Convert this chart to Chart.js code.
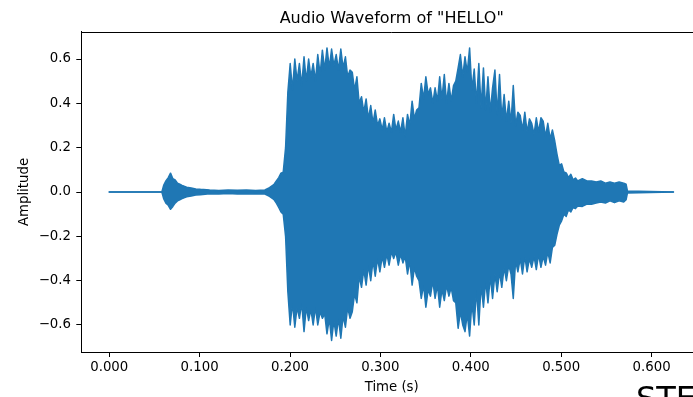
<!DOCTYPE html>
<html><head><meta charset="utf-8">
<script src="https://cdn.jsdelivr.net/npm/chart.js@4.4.1/dist/chart.umd.min.js"></script>
<style>
html,body{margin:0;padding:0;background:#fff;}
body{width:693px;height:397px;overflow:hidden;position:relative;}
#c{position:absolute;left:0;top:0;}
#stamp{position:absolute;left:636px;top:382px;font:32px/1 "DejaVu Sans";color:#000;white-space:nowrap;}
</style></head><body>
<canvas id="c" width="740" height="397"></canvas>
<div id="stamp">STE</div>
<script>
// Time (s) of each envelope sample
const times = [0,0.0582,0.0602,0.0627,0.0653,0.0678,0.0704,0.0729,0.0755,0.0780,
 0.0806,0.0856,0.0907,0.0958,0.1009,0.1111,0.1213,0.1315,0.1416,0.1518,
 0.1620,0.1722,0.1773,0.1824,0.1849,0.1875,0.1900,0.1925,0.1951,0.1976,
 0.2002,0.2027,0.2053,0.2078,0.2104,0.2129,0.2155,0.2180,0.2206,0.2231,
 0.2256,0.2282,0.2307,0.2333,0.2358,0.2384,0.2409,0.2435,0.2460,0.2485,
 0.2511,0.2536,0.2562,0.2587,0.2613,0.2638,0.2664,0.2689,0.2714,0.2740,
 0.2765,0.2791,0.2816,0.2842,0.2867,0.2893,0.2918,0.2943,0.2969,0.2994,
 0.3020,0.3045,0.3071,0.3096,0.3122,0.3147,0.3172,0.3198,0.3223,0.3249,
 0.3274,0.3300,0.3325,0.3351,0.3376,0.3401,0.3427,0.3452,0.3478,0.3503,
 0.3529,0.3554,0.3580,0.3605,0.3631,0.3656,0.3681,0.3707,0.3732,0.3758,
 0.3783,0.3809,0.3834,0.3860,0.3885,0.3911,0.3936,0.3961,0.3987,0.4012,
 0.4038,0.4063,0.4089,0.4114,0.4140,0.4165,0.4190,0.4216,0.4241,0.4267,
 0.4292,0.4318,0.4343,0.4369,0.4394,0.4420,0.4445,0.4470,0.4496,0.4521,
 0.4547,0.4572,0.4598,0.4623,0.4649,0.4674,0.4700,0.4725,0.4750,0.4776,
 0.4801,0.4827,0.4852,0.4878,0.4903,0.4929,0.4954,0.4979,0.5005,0.5030,
 0.5056,0.5081,0.5107,0.5132,0.5158,0.5183,
 0.5234,0.5285,0.5336,0.5387,0.5438,0.5489,0.5540,0.5590,0.5641,0.5692,0.5718,0.5733,0.6242];

// Upper envelope (positive peaks) of the waveform
const upper = [0,0,0.03,0.05,0.065,0.085,0.06,0.055,0.04,0.035,
 0.03,0.022,0.018,0.014,0.012,0.009,0.007,0.009,0.008,0.009,
 0.007,0.009,0.020,0.035,0.050,0.065,0.085,0.090,0.200,0.450,
 0.58,0.46,0.60,0.50,0.58,0.48,0.61,0.50,0.60,0.52,
 0.58,0.50,0.62,0.53,0.64,0.55,0.65,0.56,0.645,0.57,
 0.62,0.55,0.645,0.56,0.61,0.52,0.55,0.54,0.46,0.52,
 0.40,0.43,0.36,0.42,0.33,0.39,0.31,0.37,0.30,0.33,
 0.28,0.335,0.27,0.31,0.27,0.35,0.28,0.32,0.27,0.335,
 0.25,0.35,0.30,0.41,0.33,0.37,0.38,0.49,0.42,0.52,
 0.44,0.47,0.40,0.47,0.41,0.52,0.42,0.53,0.40,0.49,
 0.41,0.48,0.50,0.56,0.62,0.52,0.61,0.54,0.65,0.46,
 0.555,0.40,0.58,0.38,0.56,0.37,0.52,0.36,0.47,0.55,
 0.35,0.53,0.33,0.44,0.32,0.41,0.31,0.48,0.30,0.36,
 0.345,0.28,0.36,0.27,0.33,0.31,0.26,0.335,0.27,0.335,
 0.32,0.25,0.31,0.24,0.28,0.23,0.17,0.12,0.127,0.09,
 0.086,0.065,0.08,0.055,0.063,0.05,
 0.06,0.05,0.05,0.045,0.05,0.04,0.045,0.04,0.045,0.04,0.035,0.005,0];

// Lower envelope (negative peaks) of the waveform
const lower = [0,0,-0.03,-0.05,-0.06,-0.078,-0.065,-0.05,-0.04,-0.035,
 -0.03,-0.022,-0.018,-0.014,-0.012,-0.008,-0.009,-0.007,-0.009,-0.009,
 -0.008,-0.009,-0.020,-0.035,-0.050,-0.070,-0.090,-0.100,-0.200,-0.450,
 -0.60,-0.50,-0.61,-0.52,-0.57,-0.50,-0.63,-0.52,-0.58,-0.53,
 -0.60,-0.52,-0.60,-0.54,-0.57,-0.55,-0.64,-0.57,-0.67,-0.58,
 -0.65,-0.57,-0.66,-0.56,-0.61,-0.52,-0.57,-0.54,-0.46,-0.50,
 -0.38,-0.43,-0.35,-0.42,-0.33,-0.40,-0.31,-0.38,-0.30,-0.36,
 -0.29,-0.34,-0.28,-0.33,-0.27,-0.30,-0.27,-0.33,-0.28,-0.32,
 -0.29,-0.37,-0.31,-0.42,-0.34,-0.38,-0.40,-0.48,-0.42,-0.52,
 -0.44,-0.47,-0.40,-0.48,-0.42,-0.52,-0.44,-0.49,-0.42,-0.47,
 -0.43,-0.49,-0.50,-0.615,-0.54,-0.60,-0.63,-0.55,-0.65,-0.50,
 -0.60,-0.44,-0.60,-0.42,-0.52,-0.40,-0.50,-0.38,-0.48,-0.37,
 -0.45,-0.36,-0.43,-0.34,-0.40,-0.33,-0.37,-0.48,-0.31,-0.36,
 -0.30,-0.37,-0.29,-0.36,-0.30,-0.34,-0.29,-0.35,-0.28,-0.34,
 -0.29,-0.33,-0.27,-0.32,-0.25,-0.24,-0.19,-0.15,-0.13,-0.10,
 -0.11,-0.08,-0.09,-0.07,-0.075,-0.063,
 -0.065,-0.055,-0.055,-0.05,-0.045,-0.05,-0.04,-0.048,-0.04,-0.045,-0.035,-0.005,0];

const xTickValues = [0, 0.1, 0.2, 0.3, 0.4, 0.5, 0.6];
const xTickLabels = ['0.000','0.100','0.200','0.300','0.400','0.500','0.600'];
const yTickValues = [-0.6, -0.4, -0.2, 0, 0.2, 0.4, 0.6];
const yTickLabels = ['\u22120.6','\u22120.4','\u22120.2','0.0','0.2','0.4','0.6'];

const C0 = '#1f77b4';
Chart.defaults.font.family = '"DejaVu Sans"';
Chart.defaults.color = '#000';

const frame = {
  id: 'frame',
  afterDraw(chart) {
    const {ctx, chartArea: a} = chart;
    ctx.save();
    ctx.strokeStyle = '#000';
    ctx.lineWidth = 1;
    ctx.beginPath();
    ctx.moveTo(a.left, Math.round(a.top) + 0.5);
    ctx.lineTo(a.right, Math.round(a.top) + 0.5);
    ctx.lineTo(a.right, a.bottom);
    ctx.stroke();
    ctx.restore();
  }
};

const common = {
  borderColor: C0, backgroundColor: C0, borderWidth: 1.5,
  pointRadius: 0, tension: 0, borderJoinStyle: 'round', borderCapStyle: 'round'
};

new Chart(document.getElementById('c'), {
  type: 'line',
  data: {
    datasets: [
      Object.assign({label: 'upper', data: times.map((t, i) => ({x: t, y: upper[i]})), fill: '+1'}, common),
      Object.assign({label: 'lower', data: times.map((t, i) => ({x: t, y: lower[i]})), fill: false}, common)
    ]
  },
  options: {
    responsive: false,
    animation: false,
    events: [],
    layout: {padding: {left: 0, right: 37.6, top: 0, bottom: 0}},
    plugins: {
      legend: {display: false},
      tooltip: {enabled: false},
      title: {
        display: true, text: 'Audio Waveform of "HELLO"', fullSize: false,
        color: '#000', font: {size: 16, weight: 'normal', lineHeight: 1.2},
        padding: {top: 9.3, bottom: 3.2}
      }
    },
    scales: {
      x: {
        type: 'linear', min: -0.03125, max: 0.65625,
        afterFit(s) { s.height = 44.7; },
        afterBuildTicks(s) { s.ticks = xTickValues.map(v => ({value: v})); },
        grid: {drawOnChartArea: false, drawTicks: true, tickLength: 4.7, color: '#000', lineWidth: 1},
        border: {display: true, color: '#000', width: 1},
        ticks: {
          autoSkip: false, maxRotation: 0, padding: 2.5, color: '#000',
          font: {size: 13.3},
          callback: (v, i) => xTickLabels[i]
        },
        title: {display: true, text: 'Time (s)', color: '#000', font: {size: 13.3}, padding: {top: 0, bottom: 1}}
      },
      y: {
        type: 'linear', min: -0.7233, max: 0.7233,
        afterFit(s) { s.width = 81; },
        afterBuildTicks(s) { s.ticks = yTickValues.map(v => ({value: v})); },
        grid: {drawOnChartArea: false, drawTicks: true, tickLength: 4.7, color: '#000', lineWidth: 1},
        border: {display: true, color: '#000', width: 1},
        ticks: {
          autoSkip: false, padding: 5.3, color: '#000',
          font: {size: 13.3},
          callback: (v, i) => yTickLabels[i]
        },
        title: {display: true, text: 'Amplitude', color: '#000', font: {size: 13.3}, padding: {top: 16.5, bottom: 0}}
      }
    }
  },
  plugins: [frame]
});
</script>
</body></html>
